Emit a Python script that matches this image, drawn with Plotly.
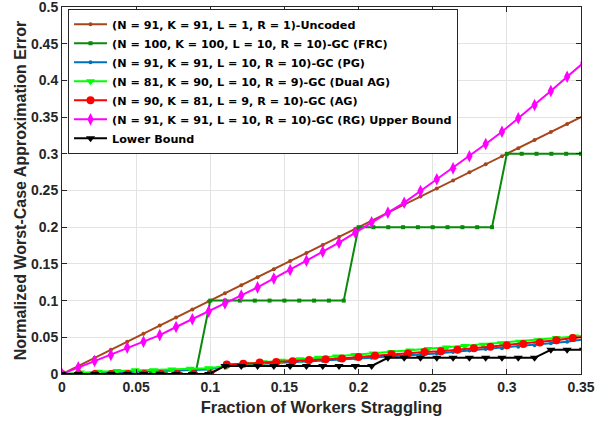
import plotly.graph_objects as go

# ---- data ----
# Uncoded, N = 91: fraction s/91
uncoded_x = [s / 91 for s in range(0, 33)]
uncoded_y = [s / 91 for s in range(0, 33)]

# FRC, N = 100: fraction s/100
frc_x = [s / 100 for s in range(0, 36)]
frc_y = [0.0] * 10 + [0.1] * 10 + [0.2] * 10 + [0.3] * 6

# PG, N = 91
pg_x = [s / 91 for s in range(0, 33)]
pg_y = [0.0, 0.0007, 0.0014, 0.0021, 0.0028, 0.0035, 0.0042, 0.0049, 0.0056, 0.0063,
        0.011, 0.0125, 0.014, 0.015, 0.016, 0.017, 0.018, 0.019, 0.021, 0.022,
        0.024, 0.025, 0.027, 0.028, 0.030, 0.032, 0.034, 0.035, 0.037, 0.039,
        0.042, 0.044, 0.047]

# Dual AG, N = 81
dag_x = [s / 81 for s in range(0, 30)]
dag_y = [0.0, 0.002, 0.003, 0.004, 0.005, 0.005, 0.006, 0.007, 0.008, 0.011,
         0.014, 0.016, 0.018, 0.020, 0.022, 0.024, 0.026, 0.028, 0.030, 0.032,
         0.034, 0.036, 0.038, 0.040, 0.042, 0.044, 0.046, 0.049, 0.051, 0.053]

# AG, N = 90
ag_x = [s / 90 for s in range(0, 33)]
ag_y = [0.0, 0.0, 0.0, 0.0, 0.0, 0.0, 0.0, 0.0, 0.0, 0.0,
        0.013, 0.014, 0.0155, 0.0165, 0.0175, 0.019, 0.020, 0.021, 0.023, 0.025,
        0.027, 0.028, 0.030, 0.031, 0.033, 0.035, 0.037, 0.039, 0.041, 0.043,
        0.046, 0.049, 0.051]

# RG upper bound, N = 91
rg_x = [s / 91 for s in range(0, 33)]
rg_y = [0.0, 0.009, 0.0177, 0.026, 0.036, 0.044, 0.053, 0.064, 0.0745, 0.085,
        0.096, 0.107, 0.118, 0.130, 0.1417, 0.1544, 0.1666, 0.1789, 0.1925, 0.2067,
        0.2198, 0.2334, 0.2493, 0.2653, 0.2802, 0.2966, 0.3134, 0.3301, 0.3484, 0.3665,
        0.3856, 0.405, 0.424]

# Lower bound, N = 91
lb_x = [s / 91 for s in range(0, 33)]
lb_y = [0.0] * 10 + [0.011] * 10 + [0.022] * 10 + [0.033] * 3

x_ticks = [0, 0.05, 0.1, 0.15, 0.2, 0.25, 0.3, 0.35]
x_tick_labels = ["0", "0.05", "0.1", "0.15", "0.2", "0.25", "0.3", "0.35"]
y_ticks = [0, 0.05, 0.1, 0.15, 0.2, 0.25, 0.3, 0.35, 0.4, 0.45, 0.5]
y_tick_labels = ["0", "0.05", "0.1", "0.15", "0.2", "0.25", "0.3", "0.35", "0.4", "0.45", "0.5"]

names = [
    "(N = 91, K = 91, L = 1, R = 1)-Uncoded",
    "(N = 100, K = 100, L = 10, R = 10)-GC (FRC)",
    "(N = 91, K = 91, L = 10, R = 10)-GC (PG)",
    "(N = 81, K = 90, L = 10, R = 9)-GC (Dual AG)",
    "(N = 90, K = 81, L = 9, R = 10)-GC (AG)",
    "(N = 91, K = 91, L = 10, R = 10)-GC (RG) Upper Bound",
    "Lower Bound",
]

fig = go.Figure()

def add(x, y, name, color, symbol, size, width=2):
    fig.add_trace(go.Scatter(
        x=x, y=y, name=name, mode="lines+markers",
        line=dict(color=color, width=width),
        marker=dict(color=color, symbol=symbol, size=size, line=dict(width=0)),
    ))

add(uncoded_x, uncoded_y, names[0], "#A5471C", "circle", 4)
add(frc_x, frc_y, names[1], "#0A8A0A", "square", 4)
add(pg_x, pg_y, names[2], "#0072BD", "circle", 4)
add(dag_x, dag_y, names[3], "#00FF00", "triangle-down", 8)
add(ag_x, ag_y, names[4], "#FF0000", "circle", 8)
add(rg_x, rg_y, names[5], "#FF00FF", "diamond-tall", 9)
add(lb_x, lb_y, names[6], "#000000", "triangle-down", 8)

axis_font = dict(family="Liberation Sans", size=14, color="#262626", weight="bold")
fig.update_layout(
    width=603, height=423,
    margin=dict(l=62, r=22, t=7, b=49, autoexpand=False),
    paper_bgcolor="white", plot_bgcolor="white",
    font=dict(family="Liberation Sans", color="#262626"),
    legend=dict(
        x=0.0116, y=0.995, xanchor="left", yanchor="top",
        bgcolor="white", bordercolor="#262626", borderwidth=1,
        font=dict(family="DejaVu Sans", size=11.2, color="#000000", weight="bold"),
        itemwidth=33, tracegroupgap=0,
    ),
    xaxis=dict(
        range=[0, 0.35], tickvals=x_ticks, ticktext=x_tick_labels,
        showgrid=True, gridcolor="#E3E3E3", gridwidth=1,
        showline=True, linecolor="#262626", linewidth=1, mirror="ticks",
        ticks="inside", ticklen=5, tickcolor="#262626",
        tickfont=axis_font, zeroline=False, automargin=False,
        ticklabeloverflow="allow",
        title=dict(text="Fraction of Workers Straggling",
                   font=dict(family="Liberation Sans", size=16.5, color="#262626", weight="bold"),
                   standoff=7),
    ),
    yaxis=dict(
        range=[0, 0.5], tickvals=y_ticks, ticktext=y_tick_labels,
        showgrid=True, gridcolor="#E3E3E3", gridwidth=1,
        showline=True, linecolor="#262626", linewidth=1, mirror="ticks",
        ticks="inside", ticklen=5, tickcolor="#262626",
        tickfont=axis_font, zeroline=False, automargin=False,
        ticklabeloverflow="allow",
        title=dict(text="Normalized Worst-Case Approximation Error",
                   font=dict(family="Liberation Sans", size=16, color="#262626", weight="bold"),
                   standoff=0),
    ),
)

fig.write_html("out.html", config={"displayModeBar": False},
               post_script="document.body.style.margin='0';")
